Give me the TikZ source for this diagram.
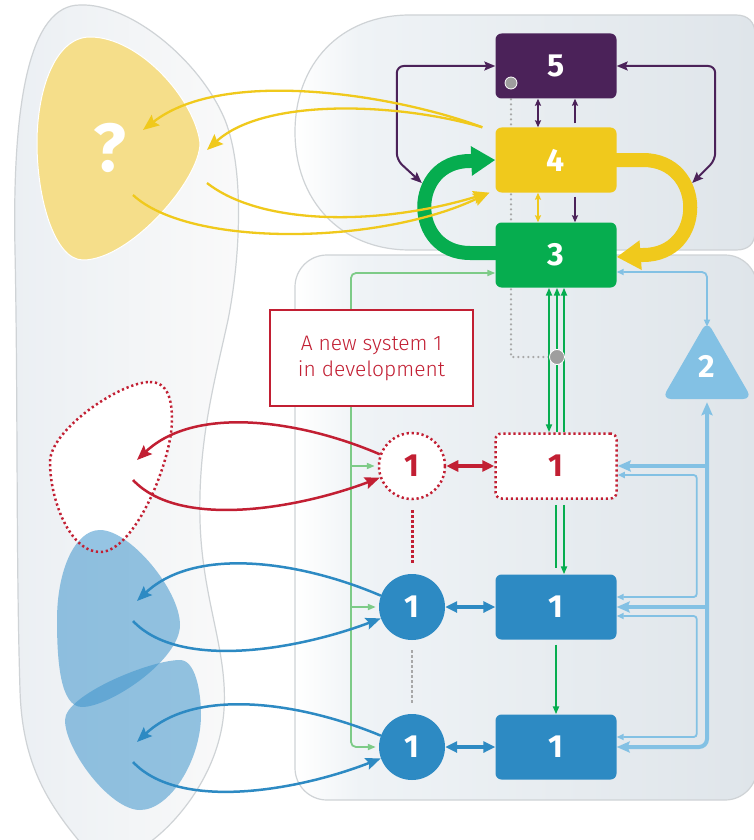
\documentclass[tikz,border=0pt]{standalone}
\usepackage{fontspec}
\setmainfont{Fira Sans}
\newfontfamily\notefont{Fira Sans Light}
\usetikzlibrary{arrows.meta,calc,shapes.geometric}

\pgfdeclarelayer{bg}
\pgfdeclarelayer{mid}
\pgfsetlayers{bg,mid,main}

\definecolor{cPurple}{HTML}{4B2259}
\definecolor{cYellow}{HTML}{F0C91C}
\definecolor{cGreen}{HTML}{06AD4F}
\definecolor{cBlue}{HTML}{2D8AC3}
\definecolor{cLBlue}{HTML}{83C1E4}
\definecolor{cRed}{HTML}{C21F33}
\definecolor{cLGreen}{HTML}{7DCB87}
\definecolor{cGrey}{HTML}{9E9E9E}
\definecolor{cDots}{HTML}{A8A8A8}
\definecolor{edgeC}{HTML}{CFD3D6}
\definecolor{orgB}{HTML}{EFF3F6}
\definecolor{orgC}{HTML}{DFE5EA}
\definecolor{envL}{HTML}{EBEFF3}
\definecolor{envR}{HTML}{FAFAFA}
\definecolor{blobY}{HTML}{F5DE8A}
\definecolor{blobB}{HTML}{3F95CC}

% white at the left edge, fading into the blue-grey of the organisation
\pgfdeclarehorizontalshading{orgshade}{100bp}{color(0bp)=(white); color(25bp)=(white); color(32bp)=(orgB); color(75bp)=(orgC); color(100bp)=(orgC)}

\tikzset{
  ptip/.tip={Stealth[length=11pt,width=9pt,inset=2pt]},
  psmall/.tip={Stealth[length=7pt,width=6pt,inset=1pt]},
  ytip/.tip={Stealth[length=16pt,width=13pt,inset=2.5pt]},
  ctip/.tip={Stealth[length=15pt,width=12pt,inset=2.5pt]},
  dtip/.tip={Triangle[length=12pt,width=11pt]},
  gtip/.tip={Triangle[length=8pt,width=6pt]},
  lbtip/.tip={Triangle[length=7pt,width=6pt]},
  lbbig/.tip={Stealth[length=13pt,width=11pt,inset=2pt]},
  bigtip/.tip={Triangle[length=24pt,width=28pt]},
  num/.style={font=\fontsize{32}{32}\selectfont\bfseries, text=white},
  sysbox/.style={num, rectangle, rounded corners=6pt, minimum width=121pt, minimum height=65pt, inner sep=0pt},
  syscirc/.style={num, circle, minimum size=66pt, inner sep=0pt},
  reddots/.style={draw=cRed, line width=2.5pt, dash pattern=on 2.2pt off 2.8pt},
  purpleline/.style={draw=cPurple, line width=2pt},
  yline/.style={draw=cYellow, line width=2.3pt},
  rline/.style={draw=cRed, line width=2.5pt},
  bline/.style={draw=cBlue, line width=2.5pt},
  gline/.style={draw=cGreen, line width=2.4pt},
  lgline/.style={draw=cLGreen, line width=1.8pt},
  lbthin/.style={draw=cLBlue, line width=1.8pt},
  lbthick/.style={draw=cLBlue, line width=4pt},
  greydot/.style={circle, fill=cGrey, draw=white, line width=0.8pt, inner sep=0pt},
}

\begin{document}
\begin{tikzpicture}[x=1pt,y=-1pt]
\useasboundingbox (0,0) rectangle (753,840);

% ---------- systems ----------
\node[sysbox, fill=cPurple] (n5) at (556,66) {5};
\node[sysbox, fill=cYellow] (n4) at (556,160) {4};
\node[sysbox, fill=cGreen] (n3) at (556,255) {3};
\node[sysbox, fill=white, reddots, text=cRed] (s1new) at (556,466) {1};
\node[sysbox, fill=cBlue] (s1a) at (556,607) {1};
\node[sysbox, fill=cBlue] (s1b) at (556,747) {1};
\node[syscirc, fill=white, reddots, text=cRed] (o1new) at (412,466) {1};
\node[syscirc, fill=cBlue] (o1a) at (412,607) {1};
\node[syscirc, fill=cBlue] (o1b) at (412,747) {1};
\node[regular polygon, regular polygon sides=3, minimum size=104pt, inner sep=0pt,
      fill=cLBlue, rounded corners=9pt] (n2) at (707,373) {};
\node[num] (n2label) at (707,366) {2};

\node[draw=cRed, line width=1.2pt, fill=white, text=cRed, align=center,
      minimum width=203pt, minimum height=96pt,
      font=\notefont\fontsize{21}{26}\selectfont] (note) at (371.5,358) {A new system 1\\in development};

\node[greydot, minimum size=12pt] (g5) at (511,83) {};
\node[greydot, minimum size=15pt] (g3) at (557,357) {};

% ---------- environment ----------
\coordinate (qIn1) at (143,130);
\coordinate (qIn2) at (207,150);
\coordinate (qOut1) at (133,195);
\coordinate (qOut2) at (207,183);
\coordinate (rIn) at (137,460);
\coordinate (rOut) at (133,480);
\coordinate (bInA) at (137,601);
\coordinate (bOutA) at (133,621);
\coordinate (bInB) at (137,742);
\coordinate (bOutB) at (133,762);
\coordinate (lgx) at (351,273);

\begin{pgfonlayer}{bg}
  \fill[white] (0,0) rectangle (753,840);

  % environment outline
  \draw[draw=edgeC, line width=1.2pt, left color=envL, right color=envR]
    (80,5) .. controls (130,3) and (200,60) .. (225,120)
    .. controls (245,170) and (240,260) .. (228,320)
    .. controls (215,380) and (198,440) .. (200,520)
    .. controls (202,600) and (228,650) .. (224,710)
    .. controls (220,770) and (180,820) .. (150,842)
    -- (80,842)
    .. controls (45,800) and (22,760) .. (20,690)
    .. controls (16,560) and (18,400) .. (15,250)
    .. controls (12,100) and (30,5) .. (80,5) -- cycle;

  % organisation: management part and operations part
  \draw[shading=orgshade, draw=edgeC, line width=1.2pt]
    (410,15) -- (736,15) .. controls (748,15) and (755,22) .. (755,34)
    -- (755,232) .. controls (755,244) and (748,250) .. (736,250)
    -- (410,250) .. controls (340,250) and (295,200) .. (295,132)
    .. controls (295,64) and (340,15) .. (410,15) -- cycle;
  \draw[shading=orgshade, draw=edgeC, line width=1.2pt, rounded corners=32pt]
    (295,255) rectangle (757,800);

  % yellow environment with the question mark
  \fill[blobY, draw=white, line width=1pt]
    (90,37) .. controls (140,37) and (195,100) .. (200,143)
    .. controls (200,180) and (130,260) .. (83,260)
    .. controls (55,260) and (37,200) .. (37,143)
    .. controls (37,90) and (55,37) .. (90,37) -- cycle;
  \node[font=\fontsize{68}{68}\selectfont\bfseries, text=white] (qmark) at (110,148) {?};

  % future environment (white, dotted outline drawn later)
  \fill[white]
    (150,382) .. controls (168,382) and (172,400) .. (172,420)
    .. controls (172,460) and (135,552) .. (100,552)
    .. controls (70,552) and (50,500) .. (50,462)
    .. controls (50,430) and (120,382) .. (150,382) -- cycle;

  % overlapping blue environments
  \fill[blobB, opacity=0.55]
    (100,530) .. controls (130,530) and (180,590) .. (180,625)
    .. controls (180,660) and (110,707) .. (82,707)
    .. controls (60,707) and (57,660) .. (57,620)
    .. controls (57,570) and (75,530) .. (100,530) -- cycle;
  \fill[blobB, opacity=0.55]
    (180,660) .. controls (195,660) and (201,690) .. (201,715)
    .. controls (201,760) and (170,810) .. (140,810)
    .. controls (110,810) and (65,750) .. (65,720)
    .. controls (65,695) and (150,660) .. (180,660) -- cycle;

  \draw[reddots]
    (150,382) .. controls (168,382) and (172,400) .. (172,420)
    .. controls (172,460) and (135,552) .. (100,552)
    .. controls (70,552) and (50,500) .. (50,462)
    .. controls (50,430) and (120,382) .. (150,382) -- cycle;
\end{pgfonlayer}

% ---------- lines running behind the systems ----------
\begin{pgfonlayer}{mid}
  % audit channel
  \draw[cDots, line width=2.5pt, line cap=round, dash pattern=on 0pt off 5pt] (g5) |- (g3);

  % 3 -> 4 and 4 -> 3 loops
  \draw[cGreen, line width=14pt, -{bigtip}]
    ($(n3.west)+(5,-2)$) -- (470,253) .. controls (409,253) and (409,161) .. (470,161) -- (n4.west);
  \draw[cYellow, line width=14pt, -{bigtip}]
    ($(n4.east)+(-5,0)$) -- (643,160) .. controls (706,160) and (706,255) .. (643,255) -- ($(n3.east)+(0,2)$);

  % resource bargain channel
  \draw[lgline, {gtip}-{gtip}, rounded corners=5pt]
    ($(n3.west)+(0,18)$) -| (o1b.west -| lgx) -- ($(o1b.west)+(-3,0)$);
  \draw[lgline, -{gtip}] (o1new.west -| lgx) -- ($(o1new.west)+(-3,0)$);
  \draw[lgline, -{gtip}] (o1a.west -| lgx) -- ($(o1a.west)+(-3,0)$);

  % command channel
  \draw[gline, {gtip}-{gtip}] ($(n3.south)+(-7,0)$) -- ($(s1new.north)+(-7,0)$);
  \draw[gline, {gtip}-] ($(n3.south)+(1,0)$) -- ($(s1new.north)+(1,0)$);
  \draw[gline, {gtip}-] ($(n3.south)+(8,0)$) -- ($(s1new.north)+(8,0)$);
  \draw[gline, shorten <=5pt, shorten >=6pt] ($(s1new.south)+(0,0)$) -- (s1a.north);
  \draw[gline, -{gtip}, shorten <=5pt] ($(s1new.south)+(8,0)$) -- ($(s1a.north)+(8,0)$);
  \draw[gline, -{gtip}, shorten <=5pt] (s1a.south) -- (s1b.north);
\end{pgfonlayer}

% ---------- management links ----------
\draw[purpleline, {psmall}-{psmall}] ($(n5.south)+(-18,0)$) -- ($(n4.north)+(-18,0)$);
\draw[purpleline, -{psmall}, shorten <=4pt] ($(n4.north)+(19,0)$) -- ($(n5.south)+(19,0)$);
\draw[yline, line width=1.6pt, {psmall}-{psmall}] ($(n4.south)+(-18,0)$) -- ($(n3.north)+(-18,0)$);
\draw[purpleline, -{psmall}, shorten <=4pt] ($(n4.south)+(19,0)$) -- ($(n3.north)+(19,0)$);

\draw[purpleline, {ptip}-{ptip}, rounded corners=7pt]
  (n5.west) -- ++(-98.5,0) -- ++(0,94) -- ++(25,23);
\draw[purpleline, {ptip}-{ptip}, rounded corners=7pt]
  (n5.east) -- ++(98.5,0) -- ++(0,94) -- ++(-23,23);

% ---------- system 4 and its environment ----------
\draw[yline, -{ytip}] ($(n4.north west)+(-13,0)$) .. controls (400,96) and (225,66) .. (qIn1);
\draw[yline, -{ytip}] ($(n4.north west)+(-13,0)$) .. controls (400,103) and (265,97) .. (qIn2);
\draw[yline, -{ytip}] (qOut1) .. controls (190,248) and (380,245) .. ($(n4.south west)+(-6,0)$);
\draw[yline, -{ytip}] (qOut2) .. controls (262,226) and (380,226) .. ($(n4.south west)+(-6,0)$);

% ---------- operations and their environments ----------
\draw[rline, -{ctip}] (o1new.160) .. controls (300,420) and (195,405) .. (rIn);
\draw[rline, -{ctip}] (rOut) .. controls (180,530) and (300,508) .. (o1new.200);
\draw[bline, -{ctip}] (o1a.160) .. controls (300,561) and (195,546) .. (bInA);
\draw[bline, -{ctip}] (bOutA) .. controls (180,671) and (300,649) .. (o1a.200);
\draw[bline, -{ctip}] (o1b.160) .. controls (300,702) and (195,687) .. (bInB);
\draw[bline, -{ctip}] (bOutB) .. controls (180,812) and (300,790) .. (o1b.200);

% management of each operation
\draw[cRed, line width=4pt, {dtip}-{dtip}] (o1new.east) -- (s1new.west);
\draw[cBlue, line width=4pt, {dtip}-{dtip}] (o1a.east) -- (s1a.west);
\draw[cBlue, line width=4pt, {dtip}-{dtip}] (o1b.east) -- (s1b.west);

% linking operations
\draw[cRed, line width=3pt, dash pattern=on 2.5pt off 2.5pt] ($(o1new.south)+(0,10)$) -- ($(o1a.north)+(0,-11)$);
\draw[cDots, line width=2.5pt, dash pattern=on 3pt off 2pt] ($(o1a.south)+(0,10)$) -- ($(o1b.north)+(0,-10)$);

% ---------- system 2 coordination ----------
\draw[lbthin, {lbtip}-{lbtip}, rounded corners=5pt] ($(n3.east)+(0,17)$) -| ($(n2.north)+(0,6)$);
\draw[lbthick, {lbbig}-{lbbig}, rounded corners=8pt] (s1b.east) -| ($(n2.south)+(0,3)$);
\draw[lbthick, -{lbbig}] (s1new.east -| n2.south) -- (s1new.east);
\draw[lbthick, -{lbbig}] (s1a.east -| n2.south) -- (s1a.east);
\draw[lbthin, {lbtip}-{lbtip}, rounded corners=3pt]
  ($(s1new.east)+(0,9)$) -| ($(s1a.east)+(80,-10)$) -- ($(s1a.east)+(0,-10)$);
\draw[lbthin, {lbtip}-{lbtip}, rounded corners=3pt]
  ($(s1a.east)+(0,9)$) -| ($(s1b.east)+(80,-10)$) -- ($(s1b.east)+(0,-10)$);

\end{tikzpicture}
\end{document}
